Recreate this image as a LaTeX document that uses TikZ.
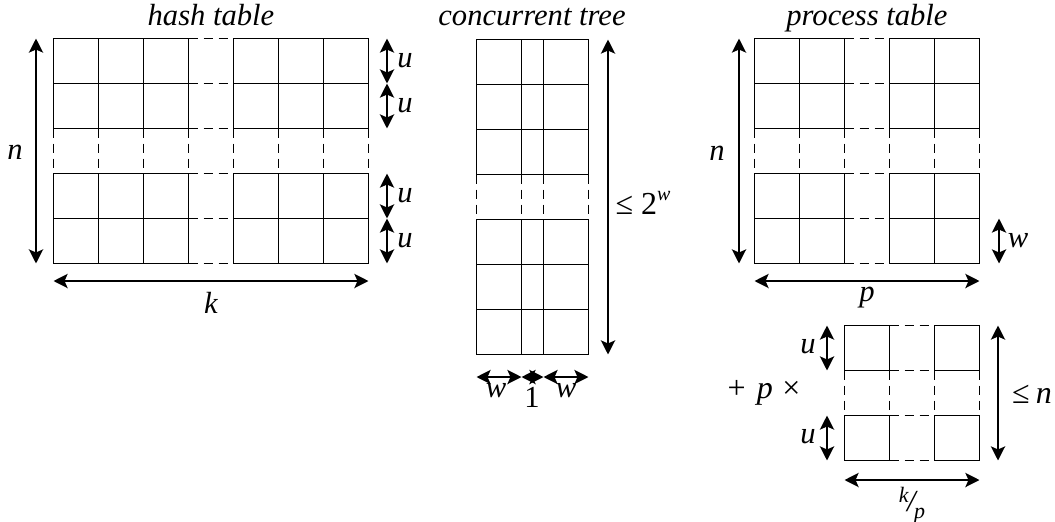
\documentclass[tikz,border=0pt]{standalone}
\usepackage{fontspec}
\setmainfont{Liberation Serif}
\usetikzlibrary{arrows.meta}

\begin{document}
\begin{tikzpicture}[x=0.5pt,y=-0.5pt,
  cell/.style={line width=0.65pt},
  gap/.style={line width=0.65pt,dash pattern=on 4.5pt off 3pt},
  dim/.style={line width=1.35pt,{Stealth[length=7pt,width=7pt,inset=1.5pt]}-{Stealth[length=7pt,width=7pt,inset=1.5pt]}},
  lbl/.style={font=\fontsize{15.3}{18}\selectfont\itshape,inner sep=0pt}]
  \useasboundingbox (0,0) rectangle (1055,521);

  % hash table
  \begin{scope}[shift={(53.5,38.5)}]
    \foreach \i in {0,...,5} \draw[gap] (0,45*\i) -- (315,45*\i);
    \foreach \i in {0,...,7} \draw[gap] (45*\i,0) -- (45*\i,225);
    \foreach \c in {0,1,2,4,5,6} \foreach \r in {0,1,3,4}
      \draw[cell] (45*\c,45*\r) rectangle +(45,45);
  \end{scope}
  \node[lbl,anchor=base] (htitle) at (211,25) {hash table};
  \draw[dim] (36,38.5) -- (36,263.5);
  \node[lbl] (hn) at (15,152) {n};
  \foreach \y/\nm in {38.5/a,83.5/b,173.5/c,218.5/d} {
    \draw[dim] (387,\y) -- (387,\y+45);
    \node[lbl] (hu\nm) at (405,\y+22.5) {u};
  }
  \draw[dim] (53.5,281) -- (368.5,281);
  \node[lbl] (hk) at (211,303) {k};

  % concurrent tree
  \begin{scope}[shift={(476.5,39.5)}]
    \foreach \i in {0,...,7} \draw[gap] (0,45*\i) -- (112,45*\i);
    \foreach \x in {0,45,67,112} \draw[gap] (\x,0) -- (\x,315);
    \foreach \r in {0,1,2,4,5,6} \foreach \a/\b in {0/45,45/67,67/112}
      \draw[cell] (\a,45*\r) rectangle (\b,45*\r+45);
  \end{scope}
  \node[lbl,anchor=base] (ttitle) at (532,25) {concurrent tree};
  \draw[dim] (608,39.5) -- (608,354.5);
  \node[lbl,font=\fontsize{16}{18}\selectfont] (tbound) at (643,203)
    {≤\hspace{0.25em}2\raisebox{0.9ex}{\fontsize{10}{10}\selectfont\itshape w}};
  \draw[dim] (476.5,377) -- (521.5,377);
  \draw[dim] (521.5,377) -- (543.5,377);
  \draw[dim] (543.5,377) -- (588.5,377);
  \node[lbl] (tw1) at (496,391) {w};
  \node[lbl,font=\fontsize{15.3}{18}\selectfont] (tone) at (532,397) {1};
  \node[lbl] (tw2) at (566,391) {w};

  % process table
  \begin{scope}[shift={(754.5,38.5)}]
    \foreach \i in {0,...,5} \draw[gap] (0,45*\i) -- (225,45*\i);
    \foreach \i in {0,...,5} \draw[gap] (45*\i,0) -- (45*\i,225);
    \foreach \c in {0,1,3,4} \foreach \r in {0,1,3,4}
      \draw[cell] (45*\c,45*\r) rectangle +(45,45);
  \end{scope}
  \node[lbl,anchor=base] (ptitle) at (867,25) {process table};
  \draw[dim] (739,38.5) -- (739,263.5);
  \node[lbl] (pn) at (717,153) {n};
  \draw[dim] (999,218.5) -- (999,263.5);
  \node[lbl] (pw) at (1018,241) {w};
  \draw[dim] (754.5,281) -- (979.5,281);
  \node[lbl] (pp) at (867,298) {p};

  % per-process part
  \begin{scope}[shift={(844.5,325.5)}]
    \foreach \i in {0,...,3} \draw[gap] (0,45*\i) -- (135,45*\i);
    \foreach \i in {0,...,3} \draw[gap] (45*\i,0) -- (45*\i,135);
    \foreach \c in {0,2} \foreach \r in {0,2}
      \draw[cell] (45*\c,45*\r) rectangle +(45,45);
  \end{scope}
  \foreach \y/\nm in {325.5/a,415.5/b} {
    \draw[dim] (827,\y) -- (827,\y+45);
    \node[lbl] (su\nm) at (808,\y+21) {u};
  }
  \node[lbl,font=\fontsize{16}{18}\selectfont] (sp) at (764,393)
    {+\hspace{0.35em}\textit{p}\hspace{0.3em}×};
  \draw[dim] (998,325.5) -- (998,460.5);
  \node[lbl,font=\fontsize{16}{18}\selectfont] (sn) at (1032,394) {≤\hspace{0.2em}\textit{n}};
  \draw[dim] (844.5,480) -- (979.5,480);
  \node[lbl] (skp) at (912,505)
    {\raisebox{0.6ex}{\fontsize{11}{11}\selectfont k}\kern-0.05em/\kern-0.05em\raisebox{-0.5ex}{\fontsize{11}{11}\selectfont p}};
\end{tikzpicture}
\end{document}
